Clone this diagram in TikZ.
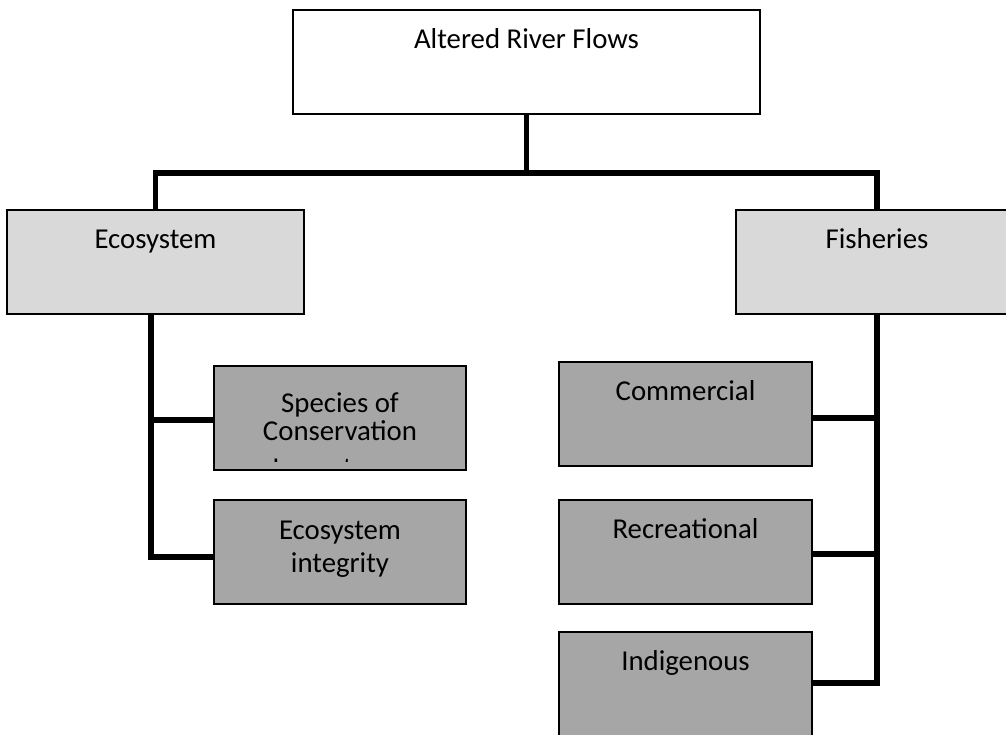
\documentclass[tikz,border=0pt]{standalone}
\usepackage{fontspec}
\setmainfont{Carlito}
\usetikzlibrary{calc}
\definecolor{midgray}{HTML}{D9D9D9}
\definecolor{leafgray}{HTML}{A6A6A6}
\begin{document}
\begin{tikzpicture}[x=1pt,y=-1pt,
  box/.style={draw=black, line width=2pt, anchor=north west, inner sep=0pt},
  toplevel/.style={box, fill=white},
  midlevel/.style={box, fill=midgray},
  leaf/.style={box, fill=leafgray},
  lbl/.style={anchor=base, inner sep=0pt, font=\fontsize{28.8}{33}\selectfont, text=black},
  conn/.style={line width=5.5pt, line join=miter}]
\useasboundingbox (0,0) rectangle (1006,734);
\fill[white] (0,0) rectangle (1006,734);

% boxes
\node[toplevel, minimum width=467, minimum height=104] (top) at (292,9) {};
\node[midlevel, minimum width=297, minimum height=104] (eco) at (6,209) {};
\node[midlevel, minimum width=282, minimum height=104] (fish) at (735,209) {};
\node[leaf, minimum width=252, minimum height=104] (species) at (213,365) {};
\node[leaf, minimum width=252, minimum height=104] (integ) at (213,499) {};
\node[leaf, minimum width=253, minimum height=104] (comm) at (558,361) {};
\node[leaf, minimum width=253, minimum height=104] (recr) at (558,499) {};
\node[leaf, minimum width=253, minimum height=104] (indig) at (558,631) {};

% connectors
\coordinate (bar) at (0,173);
\draw[conn] (top.south) -- (top.south |- bar);
\draw[conn] (eco.north) -- (eco.north |- bar) -- (fish.north |- bar) -- (fish.north);

\coordinate (ls) at ($(eco.south)+(-4.5,0)$);
\draw[conn] (ls) |- ($(integ.west)+(0,5)$);
\draw[conn] ($(ls |- species.west)+(0,2)$) -- ($(species.west)+(0,2)$);

\draw[conn] (fish.south) |- ($(indig.north east)+(0,52)$);
\draw[conn] ($(fish.south |- comm.east)+(0,4)$) -- ($(comm.east)+(0,4)$);
\draw[conn] ($(fish.south |- recr.east)+(0,2)$) -- ($(recr.east)+(0,2)$);

% labels
\node[lbl] (topl) at ($(top.north)+(0,39)$) {Altered River Flows};
\node[lbl] (ecol) at ($(eco.north)+(0,39)$) {Ecosystem};
\node[lbl] (fishl) at ($(fish.north)+(0,39)$) {Fisheries};
\node[lbl] (spl1) at ($(species.north)+(0,47)$) {Species of};
\node[lbl] (spl2) at ($(species.north)+(0,75)$) {Conservation};
% third line overflows the box and is cut off
\begin{scope}
  \clip (species.north west) rectangle ($(species.south east)+(0,-10)$);
  \node[lbl] (spl3) at ($(species.north)+(0,112)$) {Importance};
\end{scope}
\node[lbl] (intl1) at ($(integ.north)+(0,40)$) {Ecosystem};
\node[lbl] (intl2) at ($(integ.north)+(0,73)$) {integrity};
\node[lbl] (comml) at ($(comm.north)+(0,39)$) {Commercial};
\node[lbl] (recrl) at ($(recr.north)+(0,39)$) {Recreational};
\node[lbl] (indigl) at ($(indig.north)+(0,39)$) {Indigenous};
\end{tikzpicture}
\end{document}
